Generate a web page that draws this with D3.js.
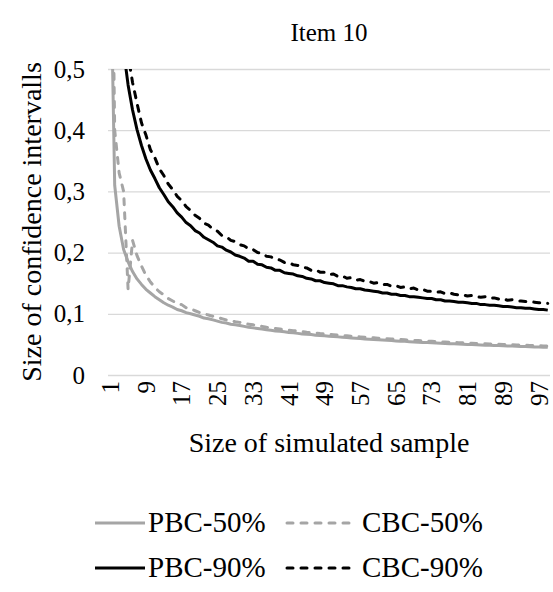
<!DOCTYPE html>
<html>
<head>
<meta charset="utf-8">
<script src="https://cdn.jsdelivr.net/npm/d3@7"></script>
<style>
  body { margin: 0; background: #fff; }
  svg text { font-family: "Liberation Serif", "Times New Roman", serif; fill: #000; }
</style>
</head>
<body>
<div id="chart"></div>
<script>
// sample sizes on the category axis, and which ones get a label
var categories = d3.range(1, 100);
var tickLabels = [1, 9, 17, 25, 33, 41, 49, 57, 65, 73, 81, 89, 97];
var yTicks = [0, 0.1, 0.2, 0.3, 0.4, 0.5];

// size of confidence intervals
var pbc50 = [0.72, 0.31, 0.243, 0.205, 0.185, 0.169, 0.157, 0.148, 0.140, 0.134,
  0.128, 0.123, 0.118, 0.114, 0.111, 0.107, 0.105, 0.102, 0.100, 0.098,
  0.096, 0.093, 0.092, 0.090, 0.088, 0.086, 0.085, 0.083, 0.082, 0.081,
  0.0795, 0.078, 0.077, 0.076, 0.075, 0.074, 0.073, 0.072, 0.0715, 0.0705,
  0.0695, 0.069, 0.068, 0.067, 0.0665, 0.066, 0.065, 0.0645, 0.064, 0.0635,
  0.063, 0.0623, 0.0617, 0.0612, 0.0606, 0.060, 0.0595, 0.059, 0.0585, 0.058,
  0.0575, 0.057, 0.0566, 0.0562, 0.0557, 0.0553, 0.055, 0.0545, 0.0541, 0.0537,
  0.0533, 0.053, 0.0526, 0.0522, 0.0519, 0.0516, 0.0512, 0.0509, 0.0506, 0.0503,
  0.050, 0.0497, 0.0494, 0.0491, 0.0488, 0.0485, 0.0482, 0.048, 0.0477, 0.0474,
  0.0472, 0.0469, 0.0467, 0.0464, 0.0462, 0.0459, 0.0457, 0.0455, 0.0452];

var cbc50 = [0.95, 0.40, 0.33, 0.30, 0.14, 0.22, 0.195, 0.178, 0.163, 0.152,
  0.143, 0.136, 0.131, 0.125, 0.121, 0.117, 0.115, 0.110, 0.108, 0.105,
  0.102, 0.100, 0.098, 0.096, 0.094, 0.092, 0.090, 0.089, 0.087, 0.086,
  0.084, 0.083, 0.082, 0.081, 0.0795, 0.078, 0.077, 0.076, 0.075, 0.074,
  0.073, 0.0725, 0.0717, 0.0709, 0.070, 0.0693, 0.0686, 0.0678, 0.0672, 0.0665,
  0.0658, 0.0652, 0.0646, 0.064, 0.0634, 0.0628, 0.0623, 0.0617, 0.0612, 0.0607,
  0.0602, 0.0597, 0.0592, 0.0588, 0.0583, 0.0579, 0.0574, 0.057, 0.0566, 0.0562,
  0.0558, 0.0554, 0.055, 0.0546, 0.0543, 0.0539, 0.0536, 0.0532, 0.0529, 0.0525,
  0.0522, 0.0519, 0.0516, 0.0513, 0.051, 0.0507, 0.0504, 0.0501, 0.0498, 0.0495,
  0.0493, 0.049, 0.0487, 0.0485, 0.0482, 0.048, 0.0477, 0.0475, 0.0472];

var pbc90 = [1.06, 0.75, 0.612, 0.53, 0.474, 0.433, 0.401, 0.375, 0.353, 0.335,
  0.321, 0.306, 0.295, 0.283, 0.275, 0.265, 0.258, 0.249, 0.244, 0.236,
  0.232, 0.225, 0.221, 0.217, 0.211, 0.209, 0.204, 0.201, 0.196, 0.194,
  0.191, 0.186, 0.186, 0.181, 0.180, 0.176, 0.175, 0.171, 0.171, 0.167,
  0.166, 0.165, 0.162, 0.161, 0.158, 0.157, 0.154, 0.154, 0.151, 0.150,
  0.149, 0.146, 0.146, 0.144, 0.143, 0.141, 0.141, 0.139, 0.138, 0.137,
  0.136, 0.134, 0.134, 0.132, 0.132, 0.130, 0.130, 0.128, 0.128, 0.127,
  0.126, 0.125, 0.125, 0.123, 0.123, 0.121, 0.121, 0.120, 0.119, 0.119,
  0.118, 0.117, 0.117, 0.115, 0.115, 0.114, 0.114, 0.113, 0.112, 0.112,
  0.111, 0.110, 0.110, 0.109, 0.109, 0.108, 0.107, 0.107, 0.106];

var cbc90 = [1.17, 0.827, 0.676, 0.585, 0.523, 0.478, 0.444, 0.412, 0.392, 0.368,
  0.355, 0.337, 0.326, 0.312, 0.303, 0.292, 0.285, 0.275, 0.269, 0.261,
  0.256, 0.248, 0.245, 0.238, 0.235, 0.228, 0.226, 0.220, 0.218, 0.213,
  0.211, 0.206, 0.205, 0.200, 0.199, 0.194, 0.193, 0.189, 0.188, 0.184,
  0.184, 0.180, 0.179, 0.176, 0.175, 0.171, 0.172, 0.168, 0.168, 0.164,
  0.165, 0.161, 0.162, 0.158, 0.159, 0.155, 0.156, 0.153, 0.153, 0.150,
  0.151, 0.148, 0.148, 0.145, 0.146, 0.143, 0.144, 0.141, 0.142, 0.139,
  0.140, 0.137, 0.137, 0.135, 0.136, 0.133, 0.134, 0.132, 0.131, 0.131,
  0.129, 0.130, 0.128, 0.127, 0.128, 0.125, 0.126, 0.124, 0.125, 0.122,
  0.123, 0.121, 0.121, 0.120, 0.120, 0.119, 0.118, 0.118, 0.117];

var seriesNames = ["PBC-50%", "CBC-50%", "PBC-90%", "CBC-90%"];
var seriesValues = [pbc50, cbc50, pbc90, cbc90];
var seriesColors = ["#a5a5a5", "#a5a5a5", "#000000", "#000000"];
var seriesDashed = [false, true, false, true];

var serif = "Liberation Serif, Times New Roman, serif";

var W = 553, H = 592;
var plot = {left: 108, right: 550, top: 69, bottom: 375};

var svg = d3.select("#chart").append("svg")
  .attr("width", W)
  .attr("height", H);

var x = d3.scaleBand()
  .domain(categories)
  .range([plot.left, plot.right]);

var y = d3.scaleLinear()
  .domain([0, 0.5])
  .range([plot.bottom, plot.top]);

var fmt = function(d) { return d === 0 ? "0" : d3.format(".1f")(d).replace(".", ","); };

// gridlines
svg.append("g")
  .attr("transform", "translate(" + plot.left + ",0)")
  .call(d3.axisLeft(y).tickValues(yTicks).tickSize(-(plot.right - plot.left)).tickFormat(""))
  .call(function(g) { g.select(".domain").remove(); })
  .selectAll("line")
    .attr("stroke", "#d9d9d9")
    .attr("stroke-width", 1.3);

// y axis labels
svg.append("g")
  .attr("transform", "translate(" + plot.left + ",0)")
  .call(d3.axisLeft(y).tickValues(yTicks).tickSize(0).tickPadding(23).tickFormat(fmt))
  .attr("font-family", serif)
  .attr("font-size", 25)
  .call(function(g) { g.select(".domain").remove(); });

// x axis labels, rotated
svg.append("g")
  .attr("transform", "translate(0," + plot.bottom + ")")
  .call(d3.axisBottom(x).tickValues(tickLabels).tickSize(0))
  .attr("font-family", serif)
  .attr("font-size", 25)
  .call(function(g) { g.select(".domain").remove(); })
  .selectAll("text")
    .attr("transform", "rotate(-90)")
    .attr("text-anchor", "end")
    .attr("x", -6)
    .attr("y", 0)
    .attr("dy", "0.35em");

// clip the lines to the plot area like the original
svg.append("clipPath").attr("id", "plotclip")
  .append("rect")
    .attr("x", plot.left)
    .attr("y", plot.top)
    .attr("width", plot.right - plot.left)
    .attr("height", plot.bottom - plot.top);

var line = d3.line()
  .x(function(d, i) { return x(categories[i]) + x.bandwidth() / 2; })
  .y(function(d) { return y(d); });

svg.append("g")
  .attr("clip-path", "url(#plotclip)")
  .selectAll("path")
  .data(seriesValues)
  .enter()
  .append("path")
    .attr("d", line)
    .attr("fill", "none")
    .attr("stroke", function(d, i) { return seriesColors[i]; })
    .attr("stroke-width", 3)
    .attr("stroke-linejoin", "round")
    .attr("stroke-linecap", function(d, i) { return seriesDashed[i] ? "round" : "butt"; })
    .attr("stroke-dasharray", function(d, i) { return seriesDashed[i] ? "6,8" : null; });

// titles
svg.append("text")
  .text("Item 10")
  .attr("x", (plot.left + plot.right) / 2)
  .attr("y", 41)
  .attr("text-anchor", "middle")
  .attr("font-size", 25);

svg.append("text")
  .text("Size of confidence intervalls")
  .attr("transform", "translate(41," + (plot.top + plot.bottom) / 2 + ") rotate(-90)")
  .attr("text-anchor", "middle")
  .attr("font-size", 28);

svg.append("text")
  .text("Size of simulated sample")
  .attr("x", (plot.left + plot.right) / 2)
  .attr("y", 452)
  .attr("text-anchor", "middle")
  .attr("font-size", 28);

// legend, two rows
var legendRows = [523, 568];
var legendCols = [{x1: 95, x2: 145, tx: 148}, {x1: 287, x2: 355, tx: 362}];

seriesNames.forEach(function(name, i) {
  var row = legendRows[Math.floor(i / 2)];
  var col = legendCols[i % 2];
  svg.append("line")
    .attr("x1", col.x1)
    .attr("x2", col.x2)
    .attr("y1", row)
    .attr("y2", row)
    .attr("stroke", seriesColors[i])
    .attr("stroke-width", 3)
    .attr("stroke-linecap", seriesDashed[i] ? "round" : "butt")
    .attr("stroke-dasharray", seriesDashed[i] ? "6,8" : null);
  svg.append("text")
    .text(name)
    .attr("x", col.tx)
    .attr("y", row + 9)
    .attr("font-size", 29);
});
</script>
</body>
</html>
